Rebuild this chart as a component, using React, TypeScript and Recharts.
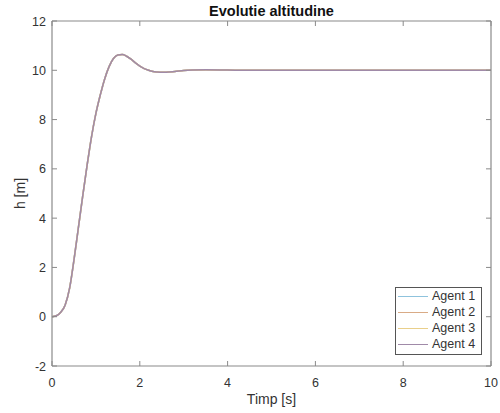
import React from "react";
import { LineChart, Line, XAxis, YAxis, Legend } from "recharts";

// altitude step response, sampled in seconds
const timp = [
  0, 0.1, 0.2, 0.3, 0.4, 0.5, 0.6, 0.7, 0.8, 0.9, 1.0, 1.1, 1.2, 1.3, 1.4, 1.5, 1.6, 1.7, 1.8, 1.9, 2.0,
  2.1, 2.2, 2.3, 2.4, 2.5, 2.6, 2.8, 3.0, 3.2, 3.5, 4.0, 4.5, 5, 6, 7, 8, 9, 10,
];
const altitudine = [
  0, 0.04, 0.18, 0.48, 1.15, 2.3, 3.6, 4.9, 6.15, 7.3, 8.25, 9.0, 9.65, 10.15, 10.48, 10.62, 10.64, 10.57,
  10.45, 10.3, 10.17, 10.07, 10.0, 9.95, 9.93, 9.92, 9.92, 9.95, 9.99, 10.01, 10.02, 10.01, 10.0, 10, 10, 10,
  10, 10, 10,
];
// all four agents follow the same reference trajectory
const agenti = ["Agent 1", "Agent 2", "Agent 3", "Agent 4"];
const culori = ["#8fc3dd", "#d9ab86", "#e9cf8a", "#a08aa8"];
const xTicks = [0, 2, 4, 6, 8, 10];
const yTicks = [-2, 0, 2, 4, 6, 8, 10, 12];

const data = timp.map((t, i) => {
  const row: Record<string, number> = { t };
  agenti.forEach((_, k) => (row[`a${k + 1}`] = altitudine[i]));
  return row;
});

const AXIS = "#8a8a8a";
const TEXT = "#333";
const FONT = "'Liberation Sans', Arial, Helvetica, sans-serif";

// MATLAB-style ticks point into the plot area
function BottomTick({ x, y, payload }: any) {
  return (
    <g>
      <line x1={x} x2={x} y1={y} y2={y - 5} stroke={AXIS} />
      <text x={x} y={y + 21} textAnchor="middle" fontSize={12.5} fill={TEXT} fontFamily={FONT}>
        {payload.value}
      </text>
    </g>
  );
}

function LeftTick({ x, y, payload }: any) {
  return (
    <g>
      <line x1={x} x2={x + 5} y1={y} y2={y} stroke={AXIS} />
      <text x={x - 6} y={y + 4.5} textAnchor="end" fontSize={12.5} fill={TEXT} fontFamily={FONT}>
        {payload.value}
      </text>
    </g>
  );
}

function TopTick({ x, y }: any) {
  return <line x1={x} x2={x} y1={y} y2={y + 5} stroke={AXIS} />;
}

function RightTick({ x, y }: any) {
  return <line x1={x} x2={x - 5} y1={y} y2={y} stroke={AXIS} />;
}

function AgentLegend() {
  return (
    <div
      style={{
        boxSizing: "border-box",
        width: 87,
        border: "1px solid #555",
        background: "#fff",
        padding: "0 4px 2px 2px",
        fontFamily: FONT,
        fontSize: 12.5,
        color: TEXT,
      }}
    >
      {agenti.map((n, i) => (
        <div key={n} style={{ display: "flex", alignItems: "center", height: 16 }}>
          <span style={{ width: 30, height: 0, borderTop: `1.5px solid ${culori[i]}`, marginRight: 4 }} />
          {n}
        </div>
      ))}
    </div>
  );
}

export default function App() {
  return (
    <div style={{ position: "absolute", left: 0, top: 0, width: 500, height: 413, background: "#fff" }}>
      <LineChart width={500} height={413} data={data} margin={{ top: 20, right: 8, bottom: 0, left: 0 }}>
        <XAxis
          dataKey="t"
          type="number"
          domain={[0, 10]}
          ticks={xTicks}
          height={47}
          tickLine={false}
          tickSize={0}
          tickMargin={0}
          axisLine={{ stroke: AXIS, strokeWidth: 1.2 }}
          tick={<BottomTick />}
          label={{
            value: "Timp [s]",
            position: "insideBottom",
            offset: 9,
            fill: TEXT,
            fontSize: 14,
            fontFamily: FONT,
          }}
        />
        <XAxis
          xAxisId="top"
          orientation="top"
          dataKey="t"
          type="number"
          domain={[0, 10]}
          ticks={xTicks}
          height={1}
          tickLine={false}
          tickSize={0}
          tickMargin={0}
          axisLine={{ stroke: AXIS, strokeWidth: 1.2 }}
          tick={<TopTick />}
          label={{
            value: "Evolutie altitudine",
            position: "top",
            offset: 4,
            fill: "#111",
            fontSize: 14.5,
            fontWeight: "bold",
            fontFamily: FONT,
          }}
        />
        <YAxis
          type="number"
          domain={[-2, 12]}
          ticks={yTicks}
          width={52}
          tickLine={false}
          tickSize={0}
          tickMargin={0}
          axisLine={{ stroke: AXIS, strokeWidth: 1.2 }}
          tick={<LeftTick />}
          label={{
            value: "h [m]",
            angle: -90,
            position: "insideLeft",
            offset: 20,
            fill: TEXT,
            fontSize: 14,
            fontFamily: FONT,
            style: { textAnchor: "middle" },
          }}
        />
        <YAxis
          yAxisId="right"
          orientation="right"
          type="number"
          domain={[-2, 12]}
          ticks={yTicks}
          width={1}
          tickLine={false}
          tickSize={0}
          tickMargin={0}
          axisLine={{ stroke: AXIS, strokeWidth: 1.2 }}
          tick={<RightTick />}
        />
        <Legend
          layout="vertical"
          align="center"
          verticalAlign="middle"
          width={87}
          wrapperStyle={{ left: 395, top: 287, width: 87, height: 68 }}
          content={<AgentLegend />}
        />
        {agenti.map((n, k) => {
          // the last agent is drawn against the top/right axes so the box frame gets rendered
          const last = k === agenti.length - 1;
          return (
            <Line
              key={n}
              name={n}
              dataKey={`a${k + 1}`}
              type="monotone"
              xAxisId={last ? "top" : 0}
              yAxisId={last ? "right" : 0}
              stroke={culori[k]}
              strokeWidth={1.5}
              dot={false}
              isAnimationActive={false}
            />
          );
        })}
      </LineChart>
    </div>
  );
}
